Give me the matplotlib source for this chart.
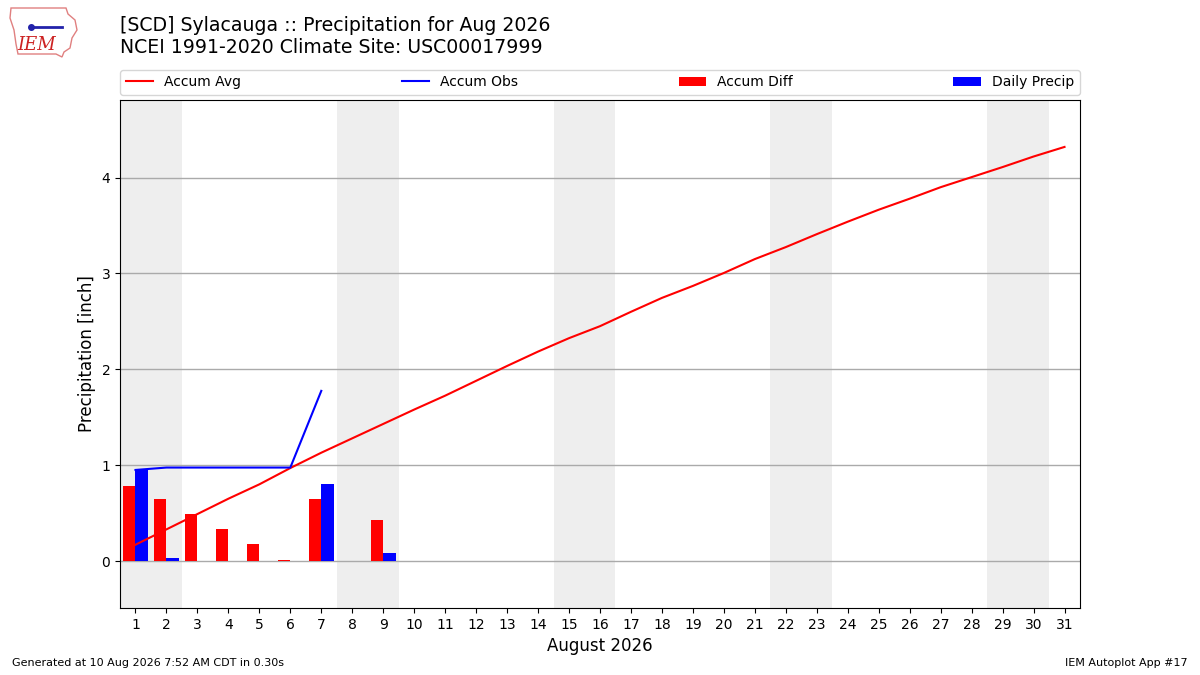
import numpy as np
import matplotlib
matplotlib.use("Agg")
import matplotlib.pyplot as plt
from matplotlib.patches import Polygon

days = list(range(1, 32))
accum_avg = [0.17, 0.33, 0.49, 0.65, 0.80, 0.97, 1.13, 1.28, 1.43, 1.58,
             1.725, 1.88, 2.035, 2.185, 2.325, 2.45, 2.60, 2.745, 2.87, 3.005,
             3.15, 3.275, 3.41, 3.54, 3.665, 3.78, 3.90, 4.005, 4.11, 4.22, 4.32]
obs_days = [1, 2, 3, 4, 5, 6, 7, 8, 9]
accum_obs = [0.95, 0.975, 0.975, 0.975, 0.975, 0.975, 1.775, np.nan, 1.855]
daily_precip = [0.95, 0.03, 0.0, 0.0, 0.0, 0.0, 0.80, np.nan, 0.08]
accum_diff = [0.78, 0.65, 0.49, 0.33, 0.18, 0.01, 0.65, np.nan, 0.43]
weekend_starts = [1, 8, 15, 22, 29]

title_lines = ["[SCD] Sylacauga :: Precipitation for Aug 2026",
               "NCEI 1991-2020 Climate Site: USC00017999"]

fig = plt.figure(figsize=(12, 6.75), dpi=100)
ax = fig.add_axes([0.1, 0.0993, 0.8, 0.7526])

for s in weekend_starts:
    ax.axvspan(s - 0.5, s + 1.5, color="#EEEEEE", zorder=0, lw=0)

ax.grid(axis="y", color="#aaaaaa", lw=1, zorder=1)
ax.set_axisbelow(True)

ax.bar(np.array(obs_days) - 0.4, accum_diff, width=0.4, align="edge",
       color="red", label="Accum Diff", zorder=2)
ax.bar(np.array(obs_days), daily_precip, width=0.4, align="edge",
       color="blue", label="Daily Precip", zorder=2)
ax.plot(days, accum_avg, color="red", lw=1.5, label="Accum Avg", zorder=3)
ax.plot(obs_days, accum_obs, color="blue", lw=1.5, label="Accum Obs", zorder=3)

ax.set_xlim(0.5, 31.5)
ax.set_ylim(-0.49, 4.81)
ax.set_xticks(days)
ax.set_yticks([0, 1, 2, 3, 4])
ax.tick_params(labelsize=10)
ax.set_xlabel("August 2026", fontsize=12)
ax.set_ylabel("Precipitation [inch]", fontsize=12)

h, l = ax.get_legend_handles_labels()
order = [l.index(n) for n in ["Accum Avg", "Accum Obs", "Accum Diff", "Daily Precip"]]
ax.legend([h[i] for i in order], [l[i] for i in order], loc="lower left",
          bbox_to_anchor=(0, 1.01, 1, 0.05), ncol=4, mode="expand",
          fontsize=10, borderaxespad=0, handlelength=2)

fig.text(0.1, 0.977, "\n".join(title_lines), fontsize=13.6, va="top", ha="left",
         linespacing=1.25)

fig.text(0.01, 0.01, "Generated at 10 Aug 2026 7:52 AM CDT in 0.30s",
         fontsize=8, ha="left", va="bottom")
fig.text(0.99, 0.01, "IEM Autoplot App #17", fontsize=8, ha="right", va="bottom")

# simple logo approximation (decorative)
W, H = 1200.0, 675.0
outline = [(11, 8), (66, 8), (68, 14), (75, 20), (77, 30), (72, 38), (70, 48),
           (64, 52), (62, 57), (56, 54), (18, 54), (16, 44), (14, 30), (10, 18)]
fig.patches.append(Polygon([(x / W, 1 - y / H) for x, y in outline], closed=True,
                           fill=False, edgecolor="#e08080", lw=1,
                           transform=fig.transFigure, figure=fig))
fig.text(37 / W, 1 - 45 / H, "IEM", fontsize=13, color="#cc2222",
         family="DejaVu Serif", style="italic", ha="center", va="center")
fig.lines.append(plt.Line2D([30 / W, 62 / W], [1 - 27 / H, 1 - 27 / H],
                            color="#2222aa", lw=2, transform=fig.transFigure,
                            figure=fig))
fig.lines.append(plt.Line2D([31 / W], [1 - 27 / H], marker="o", ms=4,
                            color="#2222aa", transform=fig.transFigure,
                            figure=fig))

fig.savefig("out.png", dpi=100)
